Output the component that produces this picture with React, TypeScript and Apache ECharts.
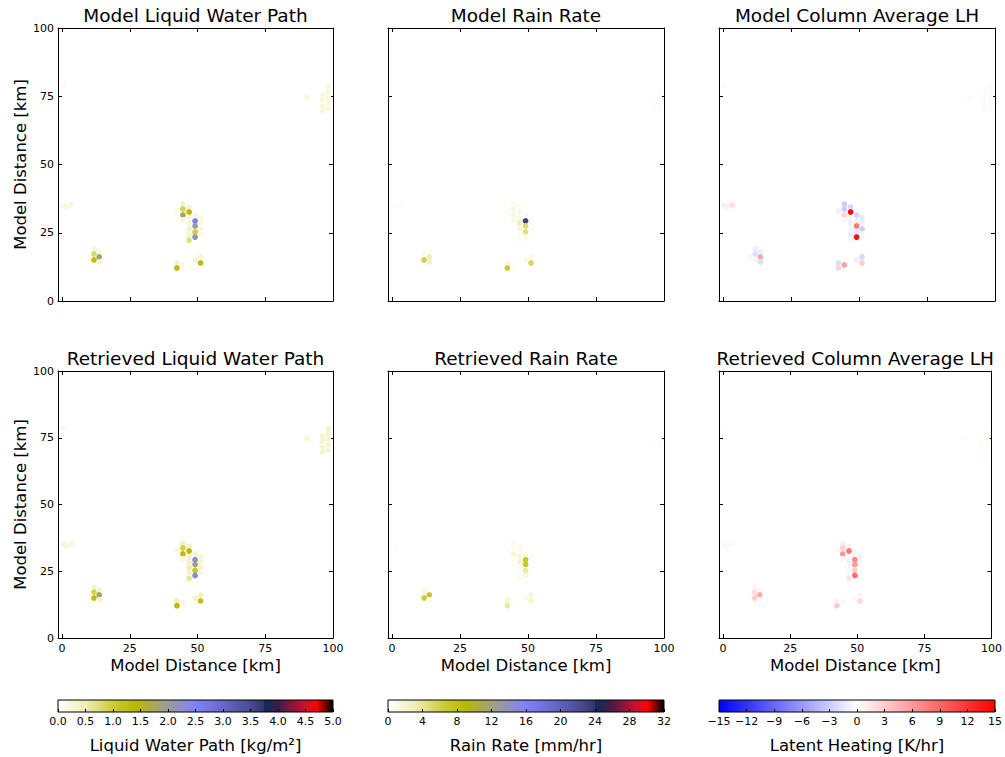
import React, { useEffect, useRef } from 'react';
import * as echarts from 'echarts';

// ---------- data ----------
const POS_X = [0.5, 0.4, 1.5, 3.4, 9.9, 11.8, 11.8, 11.8, 13.7, 13.7, 13.7, 42.4, 42.4, 44.6, 42.4, 44.6, 44.6, 44.6, 44.6,
  46.9, 46.9, 46.9, 46.9, 46.9, 46.9, 46.9, 49.1, 49.1, 49.1, 49.1, 49.1, 51.1, 51.1, 51.1, 51.1, 49.1, 51.1, 51.1,
  90.3, 96.1, 96.1, 96.1, 96.1, 98.3, 98.3, 98.3, 98.3, 98.3];
const POS_Y = [78.5, 35.0, 34.5, 35.2, 16.0, 19.0, 17.2, 15.0, 17.9, 16.1, 14.3, 13.9, 12.1, 13.2, 33.0, 35.5, 33.7, 31.5, 29.7,
  34.4, 32.6, 30.4, 28.6, 26.4, 24.5, 22.3, 31.5, 29.3, 27.5, 25.3, 23.4, 30.4, 28.6, 26.4, 24.5, 15.0, 16.1, 13.9,
  74.7, 75.5, 73.6, 71.5, 69.6, 78.5, 76.6, 74.5, 72.4, 70.4];

const MODEL_LWP = [0.12, 0.15, 0.2, 0.25, 0.1, 0.25, 0.8, 1.3, 0.25, 1.8, 0.3, 0.3, 1.35, 0.2, 0.15, 0.35, 0.9, 1.75, 0.2,
  0.3, 1.35, 0.25, 0.25, 0.35, 0.3, 0.7, 0.2, 2.5, 2.05, 1.0, 2.15, 0.2, 0.2, 0.25, 0.15, 0.3, 0.3, 1.3,
  0.2, 0.2, 0.25, 0.25, 0.2, 0.2, 0.25, 0.2, 0.2, 0.2];
const RETR_LWP = [0.15, 0.2, 0.25, 0.25, 0.1, 0.3, 0.9, 1.3, 0.3, 1.8, 0.3, 0.45, 1.3, 0.25, 0.2, 0.4, 0.95, 1.35, 0.25,
  0.35, 1.4, 0.3, 0.35, 0.5, 0.35, 0.6, 0.3, 2.3, 1.85, 1.1, 2.3, 0.3, 0.3, 0.3, 0.2, 0.35, 0.4, 1.2,
  0.25, 0.3, 0.3, 0.3, 0.3, 0.3, 0.3, 0.3, 0.3, 0.3];
const MODEL_RAIN = [0.1, 0.3, 0.4, 0.3, 0.2, 0.4, 1.0, 6.0, 0.6, 3.0, 2.5, 1.2, 6.5, 0.4, 0.3, 0.8, 1.2, 1.5, 0.8,
  0.6, 1.0, 1.3, 2.8, 1.8, 0.8, 0.6, 0.8, 23, 5.0, 4.5, 1.0, 0.5, 0.6, 0.4, 0.3, 1.2, 1.2, 5.5,
  0.15, 0.15, 0.15, 0.15, 0.15, 0.15, 0.15, 0.15, 0.15, 0.15];
const RETR_RAIN = [0.1, 0.2, 0.3, 0.2, 0.2, 0.4, 1.5, 6.5, 0.5, 7.0, 1.0, 1.8, 3.5, 0.4, 0.3, 1.0, 0.8, 1.5, 0.6,
  0.6, 0.8, 1.5, 2.0, 0.8, 0.5, 0.5, 1.2, 7.0, 7.0, 3.5, 1.5, 0.6, 0.5, 0.4, 0.3, 0.8, 1.5, 2.0,
  0.1, 0.1, 0.1, 0.1, 0.1, 0.1, 0.1, 0.1, 0.1, 0.1];
const MODEL_LH = [0.3, 1.0, 1.0, 2.0, -0.5, -1.0, -2.0, -0.5, -1.0, 5.0, -2.0, -2.0, 2.5, 5.5, -1.0, -3.0, -3.0, 2.5, -0.5,
  -2.5, 14.5, -0.5, -1.0, -0.5, -1.0, -0.5, -2.5, 1.0, 8.0, -1.5, 14.0, -1.5, -1.0, -3.0, -0.5, -1.0, -2.5, 3.0,
  0.3, 0.3, 0.3, 0.3, 0.3, 0.3, 0.3, 0.3, 0.3, 0.3];
const RETR_LH = [0.2, 0.5, 0.5, 0.5, 0.2, 0.5, 2.0, 3.0, 0.5, 5.0, 0.5, -0.5, 3.0, 0.5, 0.5, 1.0, 3.0, 6.0, 0.5,
  1.0, 8.0, 0.5, -1.0, 0.5, 0.5, 1.5, -0.5, 7.0, 6.0, 3.0, 8.5, -0.8, -0.5, 0.3, 0.3, 0.5, -0.5, 2.5,
  0.2, 0.2, 0.2, 0.2, 0.2, 0.2, 0.2, 0.2, 0.2, 0.2];

const TITLES = ['Model Liquid Water Path', 'Model Rain Rate', 'Model Column Average LH',
  'Retrieved Liquid Water Path', 'Retrieved Rain Rate', 'Retrieved Column Average LH'];
const AXIS_TICKS = [0, 25, 50, 75, 100];
const AXIS_NAME = 'Model Distance [km]';
const CB_LABELS = ['Liquid Water Path [kg/m²]', 'Rain Rate [mm/hr]', 'Latent Heating [K/hr]'];
const CB_RANGES = [[0, 5], [0, 32], [-15, 15]];
const CB_INTERVALS = [0.5, 4, 3];

// ---------- style ----------
const FONT = 'DejaVu Sans, sans-serif';
const GRID_LEFTS = [58, 388, 719];
const GRID_WIDTHS = [275, 276, 276];
const ROW_TOPS = [28, 371];
const ROW_HEIGHTS = [273, 267];

const RADAR_STOPS: [number, string][] = [
  [0, '#ffffff'], [0.1, '#eeeeb4'], [0.2, '#cccc3c'], [0.28, '#b8b800'], [0.4, '#9c9c98'],
  [0.5, '#8080ff'], [0.6, '#6868c8'], [0.7, '#4a4a92'], [0.749, '#34346e'], [0.751, '#0c2c5a'],
  [0.8, '#3c1c48'], [0.9, '#d0102c'], [0.94, '#ff0000'], [1, '#000000'],
];
const BWR_STOPS: [number, string][] = [[0, '#0000ff'], [0.5, '#ffffff'], [1, '#ff0000']];

function hexToRgb(h: string) {
  return [parseInt(h.slice(1, 3), 16), parseInt(h.slice(3, 5), 16), parseInt(h.slice(5, 7), 16)];
}
function sampleStops(stops: [number, string][], t: number) {
  for (let i = 0; i < stops.length - 1; i++) {
    const [a, ca] = stops[i];
    const [b, cb] = stops[i + 1];
    if (t >= a && t <= b) {
      const f = b === a ? 0 : (t - a) / (b - a);
      const A = hexToRgb(ca), B = hexToRgb(cb);
      const c = A.map((v, k) => Math.round(v + (B[k] - v) * f));
      return `rgb(${c[0]},${c[1]},${c[2]})`;
    }
  }
  return stops[stops.length - 1][1];
}
function palette(stops: [number, string][]) {
  const out: string[] = [];
  for (let i = 0; i <= 200; i++) out.push(sampleStops(stops, i / 200));
  return out;
}

export default function App() {
  const ref = useRef<HTMLDivElement>(null);
  useEffect(() => {
    document.body.style.margin = '0';
    if (!ref.current) return;
    const chart = echarts.init(ref.current, null, { renderer: 'svg' });

    const panelValues = [MODEL_LWP, MODEL_RAIN, MODEL_LH, RETR_LWP, RETR_RAIN, RETR_LH];
    const panelKind = [0, 1, 2, 0, 1, 2];
    const stopsFor = [RADAR_STOPS, RADAR_STOPS, BWR_STOPS];
    const lineStyle = { color: '#000', width: 1 };
    const grids: any[] = [], xAxes: any[] = [], yAxes: any[] = [], series: any[] = [], visualMaps: any[] = [];

    panelValues.forEach((vals, p) => {
      const row = Math.floor(p / 3), col = p % 3;
      grids.push({ left: GRID_LEFTS[col], top: ROW_TOPS[row], width: GRID_WIDTHS[col], height: ROW_HEIGHTS[row] });
      const common = {
        type: 'value', gridIndex: p, min: -1.5, max: 100, splitLine: { show: false },
        axisLine: { show: true, onZero: false, lineStyle },
        axisTick: { show: true, inside: true, length: 4, customValues: AXIS_TICKS, lineStyle },
      };
      xAxes.push({
        ...common, position: 'bottom',
        axisLabel: { show: row === 1, customValues: AXIS_TICKS, color: '#000', fontSize: 11, fontFamily: FONT, margin: 5 },
        name: row === 1 ? AXIS_NAME : '', nameLocation: 'middle', nameGap: 19,
        nameTextStyle: { fontSize: 16.5, color: '#000', fontFamily: FONT },
      });
      xAxes.push({
        ...common, position: 'top', axisLabel: { show: false },
        name: TITLES[p], nameLocation: 'middle', nameGap: 3,
        nameTextStyle: { fontSize: 18.5, color: '#000', fontFamily: FONT },
      });
      const ycommon = {
        type: 'value', gridIndex: p, min: 0, max: 100, interval: 25, splitLine: { show: false },
        axisLine: { show: true, onZero: false, lineStyle },
        axisTick: { show: true, inside: true, length: 4, lineStyle },
      };
      yAxes.push({
        ...ycommon, position: 'left',
        axisLabel: { show: col === 0, color: '#000', fontSize: 11, fontFamily: FONT, margin: 4 },
        name: col === 0 ? AXIS_NAME : '', nameLocation: 'middle', nameGap: 27,
        nameTextStyle: { fontSize: 16.5, color: '#000', fontFamily: FONT },
      });
      yAxes.push({ ...ycommon, position: 'right', axisLabel: { show: false } });
      const k = panelKind[p];
      series.push({
        type: 'scatter', xAxisIndex: 2 * p, yAxisIndex: 2 * p, symbol: 'circle', symbolSize: 5.8,
        data: POS_X.map((x, i) => [x, POS_Y[i], vals[i]]),
        itemStyle: { opacity: 1 },
        silent: true,
      });
      visualMaps.push({
        type: 'continuous', show: false, seriesIndex: p, dimension: 2,
        min: CB_RANGES[k][0], max: CB_RANGES[k][1], inRange: { color: palette(stopsFor[k]) },
      });
    });

    // colorbars
    CB_LABELS.forEach((label, k) => {
      const gi = 6 + k;
      grids.push({ left: GRID_LEFTS[k], top: 700, width: GRID_WIDTHS[k], height: 12 });
      xAxes.push({
        type: 'value', gridIndex: gi, position: 'bottom', min: CB_RANGES[k][0], max: CB_RANGES[k][1],
        interval: CB_INTERVALS[k], z: 10, splitLine: { show: false },
        axisLine: { show: false },
        axisTick: { show: true, inside: true, length: 3, lineStyle },
        axisLabel: {
          color: '#000', fontSize: 11, fontFamily: FONT, margin: 4,
          formatter: (v: number) => (k === 0 ? v.toFixed(1) : String(v).replace('-', '\u2212')),
        },
        name: label, nameLocation: 'middle', nameGap: 25,
        nameTextStyle: { fontSize: 16.5, color: '#000', fontFamily: FONT },
      });
      yAxes.push({ type: 'value', gridIndex: gi, min: 0, max: 1, show: false });
      const stops = (k === 2 ? BWR_STOPS : RADAR_STOPS).map(([o, c]) => ({ offset: o, color: c }));
      series.push({
        type: 'custom', xAxisIndex: 12 + k, yAxisIndex: 12 + k, silent: true,
        data: [[CB_RANGES[k][0], CB_RANGES[k][1]]],
        renderItem: (params: any, api: any) => {
          const p0 = api.coord([api.value(0), 0]);
          const p1 = api.coord([api.value(1), 1]);
          return {
            type: 'rect',
            shape: { x: p0[0], y: p1[1], width: p1[0] - p0[0], height: p0[1] - p1[1] },
            style: { fill: new echarts.graphic.LinearGradient(0, 0, 1, 0, stops), stroke: '#000', lineWidth: 1 },
          };
        },
      });
    });

    chart.setOption({
      animation: false,
      backgroundColor: '#ffffff',
      grid: grids,
      xAxis: xAxes,
      yAxis: yAxes,
      visualMap: visualMaps,
      series,
    });
    return () => chart.dispose();
  }, []);
  return <div ref={ref} style={{ width: 1005, height: 757 }} />;
}
